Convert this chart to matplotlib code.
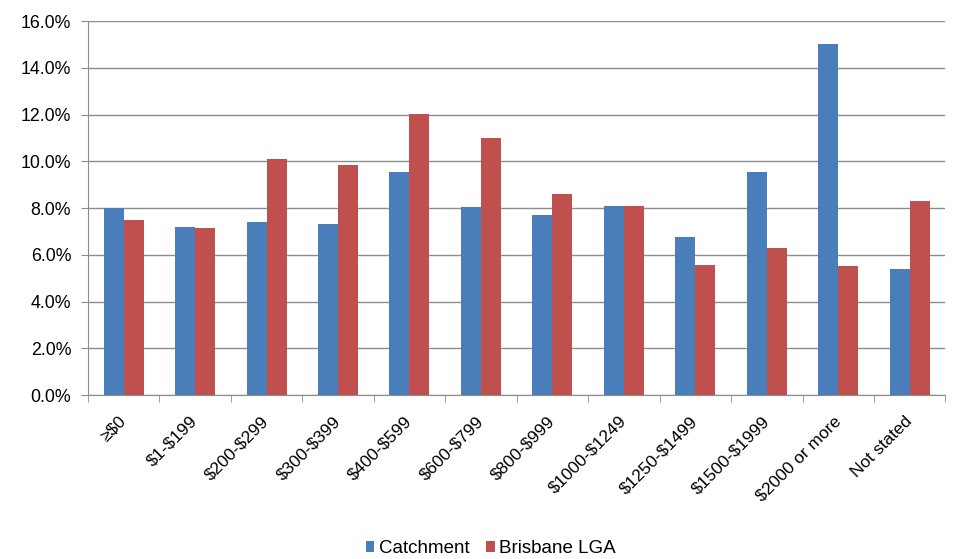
import matplotlib
matplotlib.use("Agg")
from matplotlib import pyplot as plt
from matplotlib.ticker import PercentFormatter, FixedLocator
import numpy as np

plt.rcParams['font.family'] = ['Liberation Sans', 'DejaVu Sans']
plt.rcParams['text.parse_math'] = False

categories = ['≥$0', '$1-$199', '$200-$299', '$300-$399', '$400-$599', '$600-$799',
              '$800-$999', '$1000-$1249', '$1250-$1499', '$1500-$1999',
              '$2000 or more', 'Not stated']
catchment = [8.0, 7.18, 7.39, 7.34, 9.57, 8.05, 7.69, 8.08, 6.75, 9.57, 15.01, 5.40]
brisbane = [7.5, 7.15, 10.1, 9.86, 12.04, 11.0, 8.62, 8.08, 5.56, 6.30, 5.51, 8.29]

blue = '#4a7ebb'
red = '#c0504d'

fig = plt.figure(figsize=(9.55, 5.59), dpi=100)
ax = fig.add_axes([0.092, 0.293, 0.898, 0.669])

x = np.arange(len(categories))
w = 0.28
ax.bar(x - w / 2, catchment, w, color=blue, label='Catchment', zorder=3)
ax.bar(x + w / 2, brisbane, w, color=red, label='Brisbane LGA', zorder=3)

ax.set_xlim(-0.5, len(categories) - 0.5)
ax.set_ylim(0, 16)
ax.set_yticks(np.arange(0, 16.1, 2))
ax.yaxis.set_major_formatter(PercentFormatter(decimals=1))
ax.grid(axis='y', color='#8c8c8c', linewidth=1, zorder=0)

ax.set_xticks(x)
ax.set_xticklabels(categories, rotation=45, ha='right', va='center',
                   rotation_mode='anchor', fontsize=12.5)
ax.xaxis.set_minor_locator(FixedLocator(np.arange(-0.5, len(categories), 1)))
ax.tick_params(axis='x', which='major', length=0, pad=17)
ax.tick_params(axis='x', which='minor', length=5, color='#8c8c8c')
ax.tick_params(axis='y', length=5, color='#8c8c8c', labelsize=12.8, pad=7)

for s in ['top', 'right']:
    ax.spines[s].set_visible(False)
for s in ['left', 'bottom']:
    ax.spines[s].set_color('#8c8c8c')

leg = fig.legend(loc='lower center', bbox_to_anchor=(0.514, -0.027), ncol=2, frameon=False,
                 fontsize=13.5, handlelength=0.45, handleheight=0.45, handletextpad=0.25,
                 columnspacing=0.9)

fig.savefig('out.png', dpi=100)
